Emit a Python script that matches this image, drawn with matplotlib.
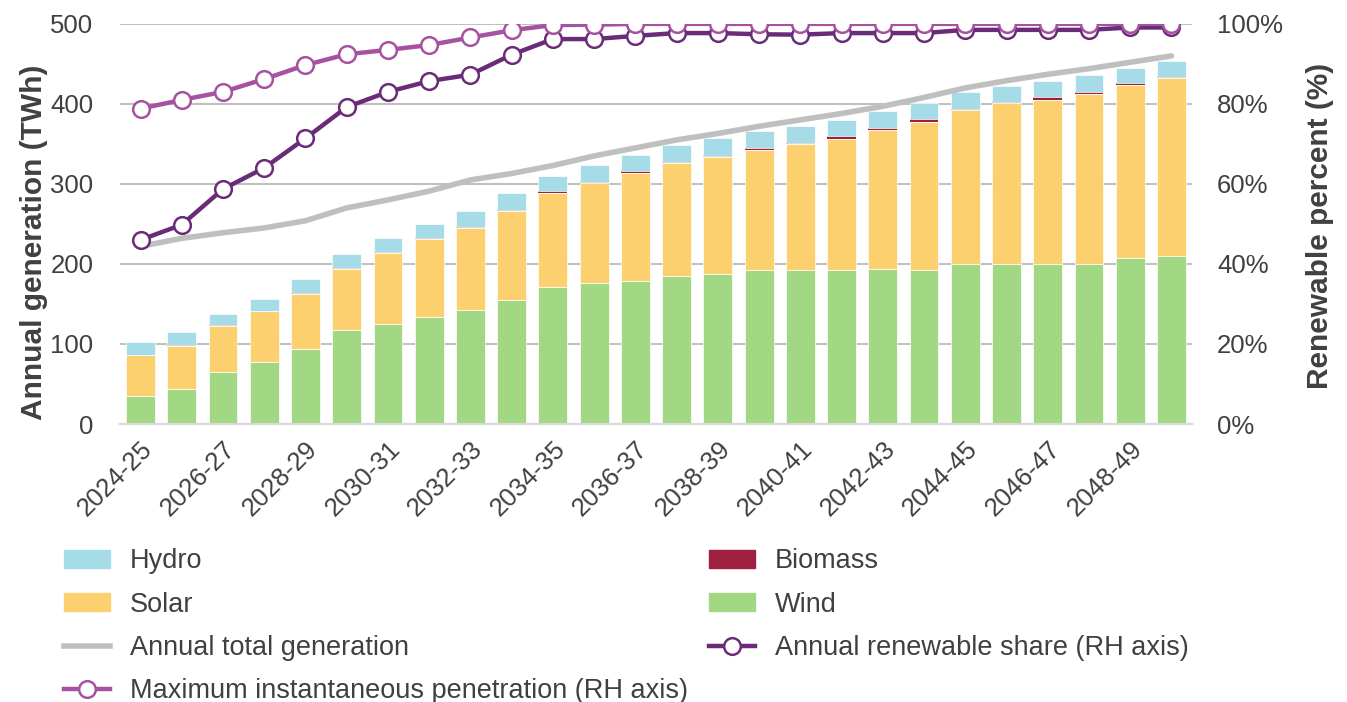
import matplotlib.pyplot as plt
import numpy as np
from matplotlib.lines import Line2D
from matplotlib.patches import Patch

plt.rcParams['font.family'] = ['Liberation Sans', 'DejaVu Sans']

# financial years 2024-25 .. 2049-50
years = [f"{y}-{str(y + 1)[-2:]}" for y in range(2024, 2050)]

# generation by fuel (TWh)
wind = [35, 44, 65, 77, 94, 117, 125, 134, 142, 155, 171, 176, 179,
        185, 188, 192, 192, 192, 194, 192, 200, 200, 200, 200, 207, 210]
solar = [51, 54, 58, 64, 69, 77, 89, 97, 103, 111, 118, 125, 135,
         141, 146, 151, 157.5, 164.5, 174, 186, 192, 201, 205, 212.5, 217, 222]
biomass = [0.5, 0.5, 0.5, 0.5, 0.5, 0.5, 0.5, 1, 1, 1.5, 2, 1.5, 2,
           1.5, 1.5, 2, 1.5, 3.5, 2, 3.5, 2, 1.5, 3.75, 2, 2, 1.75]
hydro = [15.5, 16.5, 14.5, 14.5, 17.5, 18.5, 18.5, 18, 20, 21.5, 19, 21.5, 20,
         21.5, 21.5, 21.5, 21.5, 20, 21.5, 19.5, 21, 20, 20, 21.5, 19, 19.25]

# total generation (TWh)
total_gen = [222, 232, 239, 245, 254, 270, 280, 291, 305, 313, 323, 335, 345,
             355, 363, 372, 380, 388, 397, 408, 420, 429, 437, 444, 452, 460]

# percentages (RH axis)
renew_share = [46, 49.8, 58.7, 64, 71.4, 79.2, 83, 85.7, 87.3, 92.3, 96.2, 96.2, 97,
               97.7, 97.7, 97.4, 97.3, 97.7, 97.7, 97.7, 98.5, 98.5, 98.5, 98.5, 99.1, 99.1]
max_inst = [78.8, 81, 83, 86.2, 89.7, 92.4, 93.5, 94.7, 96.6, 98.4, 99.7, 99.8, 100,
            100, 100, 100, 100, 100, 100, 100, 100, 100, 100, 100, 100, 100]

c_hydro = '#A6DCE8'
c_bio = '#9E1F40'
c_solar = '#FCD06F'
c_wind = '#A2D884'
c_total = '#BFBFBF'
c_share = '#6A2C78'
c_max = '#A652A0'
txt = '#404040'

fig = plt.figure(figsize=(13.47, 7.02), dpi=100)
ax = fig.add_axes([0.089, 0.396, 0.796, 0.570])
ax2 = ax.twinx()

x = np.arange(len(years))
w = 0.7
b1 = np.array(wind)
b2 = b1 + np.array(solar)
b3 = b2 + np.array(biomass)
ax.bar(x, wind, w, color=c_wind, edgecolor='white', linewidth=0.5, zorder=2)
ax.bar(x, solar, w, bottom=b1, color=c_solar, edgecolor='white', linewidth=0.5, zorder=2)
ax.bar(x, biomass, w, bottom=b2, color=c_bio, linewidth=0, zorder=2)
ax.bar(x, hydro, w, bottom=b3, color=c_hydro, edgecolor='white', linewidth=0.5, zorder=2)
ax.plot(x, total_gen, color=c_total, lw=4, zorder=3, solid_capstyle='round')

ax2.plot(x, renew_share, color=c_share, lw=3.2, marker='o', ms=12,
         mfc='white', mec=c_share, mew=1.8, zorder=4)
ax2.plot(x, max_inst, color=c_max, lw=3.2, marker='o', ms=12,
         mfc='white', mec=c_max, mew=1.8, zorder=5)

ax.set_xlim(-0.5, len(years) - 0.5)
ax.set_ylim(0, 500)
ax.set_yticks(range(0, 501, 100))
ax2.set_ylim(0, 100)
ax2.set_yticks(range(0, 101, 20))
ax2.set_yticklabels([f"{v}%" for v in range(0, 101, 20)])

ax.grid(axis='y', color='#C0C0C0', lw=1.5, zorder=0)
ax.set_axisbelow(True)
for a in (ax, ax2):
    for s in ('top', 'left', 'right'):
        a.spines[s].set_visible(False)
    a.spines['bottom'].set_color('#D9D9D9')
    a.spines['bottom'].set_linewidth(1.5)
    a.tick_params(length=0, labelsize=18.5, labelcolor=txt)
ax.tick_params(axis='y', pad=19)
ax2.tick_params(axis='y', pad=18)

ax.set_xticks(x[::2])
ax.set_xticklabels(years[::2], rotation=45, ha='right', rotation_mode='anchor')
ax.tick_params(axis='x', pad=9)

ax.set_ylabel('Annual generation (TWh)', fontsize=21.5, fontweight='bold', color=txt)
ax.yaxis.set_label_coords(-0.067, 0.455)
ax2.set_ylabel('Renewable percent (%)', fontsize=21.5, fontweight='bold', color=txt,
               rotation=90)
ax2.yaxis.set_label_coords(1.106, 0.495)

handles = [
    Patch(color=c_hydro, label='Hydro'),
    Patch(color=c_solar, label='Solar'),
    Line2D([], [], color=c_total, lw=4, label='Annual total generation'),
    Line2D([], [], color=c_max, lw=3.2, marker='o', ms=12, mfc='white', mec=c_max,
           mew=1.8, label='Maximum instantaneous penetration (RH axis)'),
    Patch(color=c_bio, label='Biomass'),
    Patch(color=c_wind, label='Wind'),
    Line2D([], [], color=c_share, lw=3.2, marker='o', ms=12, mfc='white', mec=c_share,
           mew=1.8, label='Annual renewable share (RH axis)'),
]
fig.legend(handles=handles, ncol=2, loc='upper left', bbox_to_anchor=(0.0375, 0.238),
           frameon=False, fontsize=19.5, labelcolor=txt, handlelength=1.7,
           handleheight=0.6, handletextpad=0.72, columnspacing=0.8, labelspacing=0.63,
           borderpad=0)

fig.savefig('out.png', dpi=100)
